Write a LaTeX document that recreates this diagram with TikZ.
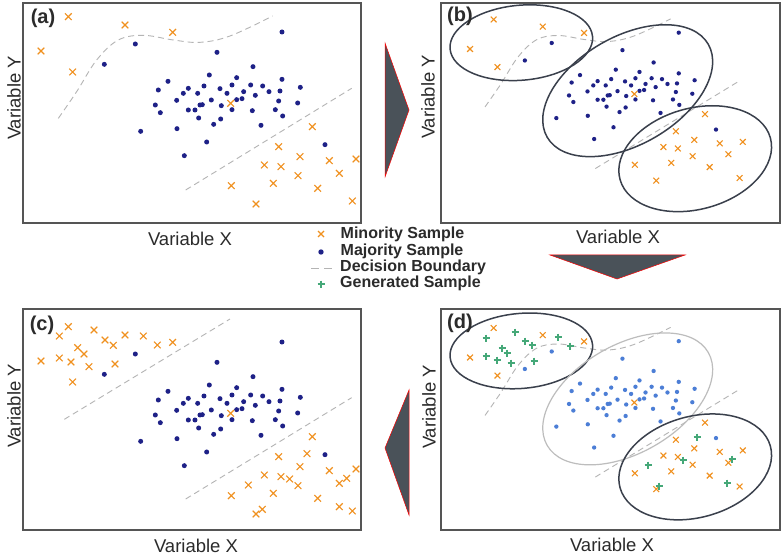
\documentclass[tikz,border=0pt]{standalone}
\usepackage{fontspec}
\setmainfont{Liberation Sans}
\definecolor{orng}{HTML}{F0901E}
\definecolor{navy}{HTML}{1E2187}
\definecolor{lblue}{HTML}{4C7ED6}
\definecolor{grn}{HTML}{45A878}
\definecolor{bnd}{HTML}{B4B4B4}
\definecolor{frm}{HTML}{555555}
\definecolor{ell}{HTML}{3A404C}
\definecolor{lell}{HTML}{BDBDBD}
\definecolor{arr}{HTML}{4A5259}
\definecolor{txt}{HTML}{2B2B2B}
\tikzset{
 frame/.style={draw=frm, line width=1.4pt},
 crossst/.style={draw=orng, line width=1.1pt},
 plusst/.style={draw=grn, line width=1.2pt},
 bound/.style={draw=bnd, line width=0.9pt, dash pattern=on 6pt off 4pt},
 ellst/.style={draw=ell, line width=1.5pt},
 lellst/.style={draw=lell, line width=1.2pt},
 bigarrow/.style={fill=arr, draw=red, line width=0.5pt},
 axlab/.style={font=\fontsize{18.5}{20}\selectfont, text=txt, inner sep=0},
 plab/.style={font=\fontsize{20}{22}\selectfont\bfseries, text=txt, inner sep=0},
 leg/.style={font=\fontsize{16}{18}\selectfont\bfseries, text=txt, inner sep=0, anchor=west},
}
\newcommand\majpts{(846,96),(406,132),(651,157),(313,193),(759,200),(628,225),(504,244),(710,233),(846,238),(475,270),(565,265),(550,280),(593,280),(612,258),(660,266),(681,280),(696,255),(731,275),(752,255),(788,258),(807,275),(840,273),(901,262),(530,301),(634,300),(710,299),(726,296),(766,286),(836,303),(893,309),(466,315),(600,315),(607,314),(565,330),(585,330),(664,317),(696,329),(757,332),(826,329),(481,338),(596,354),(662,357),(848,348),(641,373),(783,376),(422,394),(531,386),(620,426),(975,434),(553,467)}
\newcommand\minpts{(205,50),(375,75),(518,97),(123,153),(218,216),(692,310),(937,380),(836,440),(900,470),(793,495),(843,500),(988,482),(1068,477),(1018,520),(894,527),(820,550),(694,557),(953,565),(768,612),(1057,603)}
\newcommand\extrapts{(178,78),(282,60),(315,90),(430,78),(340,106),(472,105),(233,113),(252,132),(178,144),(213,156),(267,170),(345,162),(921,431),(869,507),(745,525),(1040,505),(787,598),(1018,590)}
\newcommand\genpts{(515,332),(486,338),(525,341),(532,345),(558,337),(570,346),(502,348),(507,353),(486,356),(497,360),(511,363),(534,361),(697,437),(683,460),(648,465),(732,459),(659,486),(727,483)}
\newcommand\drawdots[1]{\foreach \p in \majpts {\fill[#1] \p circle (7.5);}}
\newcommand\drawcrosses[1]{\foreach \p in #1 {\draw[crossst] \p +(-10,-10) -- +(10,10) \p +(-10,10) -- +(10,-10);}}
\newcommand\curvesA{%
 \draw[bound] plot[smooth, tension=0.6] coordinates {(175,355) (230,275) (290,180) (355,120) (430,106) (520,120) (600,127) (690,108) (818,48)};
 \draw[bound] (557,570) -- (1055,265);}
\begin{document}
\begin{tikzpicture}[x=1pt,y=-1pt]
\useasboundingbox (0,0) rectangle (782,556);
\fill[white] (0,0) rectangle (782,556);
% frames
\draw[frame] (23,3) rectangle (361,223);
\draw[frame] (441,3) rectangle (780,223);
\draw[frame] (23,309) rectangle (361,530);
\draw[frame] (441,309) rectangle (780,530);
% panel (a)
\begin{scope}[scale=0.33333]
 \curvesA
 \drawdots{navy}
 \drawcrosses{\minpts}
\end{scope}
% panel (b)
\begin{scope}[shift={(434.5,5.14)}, xscale=0.2887, yscale=0.2867]
 \curvesA
 \drawdots{navy}
 \drawcrosses{\minpts}
\end{scope}
\draw[ellst, rotate around={5:(521.3,42.7)}] (521.3,42.7) ellipse [x radius=71.5, y radius=37.5];
\draw[ellst, rotate around={30:(627.7,90.7)}] (627.7,90.7) ellipse [x radius=93, y radius=54];
\draw[ellst, rotate around={15.5:(695.2,158.7)}] (695.2,158.7) ellipse [x radius=78, y radius=50.5];
% panel (c)
\begin{scope}[shift={(0,310)}, scale=0.33333]
 \draw[bound] (193,328) -- (690,27);
 \draw[bound] (557,567) -- (1055,263);
 \drawdots{navy}
 \drawcrosses{\minpts}
 \drawcrosses{\extrapts}
\end{scope}
% panel (d)
\begin{scope}[shift={(434.5,313.64)}, xscale=0.2887, yscale=0.2867]
 \curvesA
 \drawdots{lblue}
 \drawcrosses{\minpts}
\end{scope}
\foreach \p in \genpts {\draw[plusst] \p +(-3.5,0) -- +(3.5,0) \p +(0,-3.5) -- +(0,3.5);}
\draw[ellst, rotate around={5:(521.3,350.9)}] (521.3,350.9) ellipse [x radius=71.5, y radius=37.5];
\draw[lellst, rotate around={30:(627.7,398.9)}] (627.7,398.9) ellipse [x radius=93, y radius=54];
\draw[ellst, rotate around={15.5:(695.2,466.9)}] (695.2,466.9) ellipse [x radius=78, y radius=50.5];
% panel labels
\node[plab] (la) at (43,18) {(a)};
\node[plab] (lb) at (460,16) {(b)};
\node[plab] (lc) at (42,325) {(c)};
\node[plab] (ld) at (460,323) {(d)};
% axis labels
\node[axlab, rotate=90] (ya) at (14,98) {Variable Y};
\node[axlab, rotate=90] (yb) at (428,97) {Variable Y};
\node[axlab, rotate=90] (yc) at (14,406) {Variable Y};
\node[axlab, rotate=90] (yd) at (429,407) {Variable Y};
\node[axlab] (xa) at (190,239) {Variable X};
\node[axlab] (xb) at (618,237) {Variable X};
\node[axlab] (xc) at (196,546) {Variable X};
\node[axlab] (xd) at (612,545) {Variable X};
% arrows
\draw[bigarrow] (385,43) -- (409,110) -- (385,177) -- cycle;
\draw[bigarrow] (550,255) -- (685,255) -- (617,279) -- cycle;
\draw[bigarrow] (409,390) -- (385,448) -- (409,515) -- cycle;
% legend
\draw[crossst] (318,231) -- (324,237) (318,237) -- (324,231);
\fill[navy] (321,252) circle (2.7);
\draw[bound, dash pattern=on 8pt off 5pt] (311,268) -- (332,268);
\draw[plusst] (317.5,284) -- (324.5,284) (321,280.5) -- (321,287.5);
\node[leg] (l1) at (340.5,234) {Minority Sample};
\node[leg] (l2) at (340.5,251) {Majority Sample};
\node[leg] (l3) at (340,267) {Decision Boundary};
\node[leg] (l4) at (340,283.5) {Generated Sample};
\end{tikzpicture}
\end{document}
